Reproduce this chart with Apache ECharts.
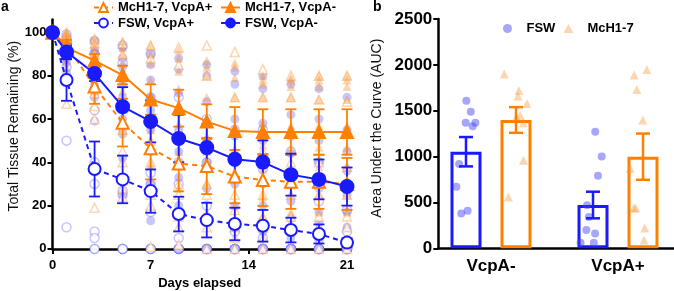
<!DOCTYPE html>
<html>
<head>
<meta charset="utf-8">
<script src="https://cdn.jsdelivr.net/npm/echarts@6/dist/echarts.min.js"></script>
<style>
html, body { margin: 0; padding: 0; background: #fff; }
#main { width: 674px; height: 291px; }
</style>
</head>
<body>
<div id="main"></div>
<script>
// ---- panel a: tissue remaining over time ----
var days = [0, 1, 3, 5, 7, 9, 11, 13, 15, 17, 19, 21];
var dayTicks = [0, 7, 14, 21];
var pctTicks = [0, 20, 40, 60, 80, 100];

var fswMinusMean = [100, 91, 81, 65.7, 58.9, 51, 46.8, 41.4, 40.1, 34.3, 32.1, 28.8];
var fswMinusSem  = [0, 3, 3.5, 9, 9.7, 11, 10.7, 10.6, 10, 9.7, 9.2, 8.8];
var fswPlusMean  = [100, 78, 36.9, 32.1, 26.7, 16.1, 13.3, 11.5, 10.7, 8.7, 6.9, 2.9];
var fswPlusSem   = [0, 9.6, 12.7, 11, 10, 8, 8, 7.5, 7.3, 5.7, 4.4, 2];
var mchMinusMean = [100, 93, 87, 80.3, 69, 65, 58.8, 54.5, 54, 54, 54, 54];
var mchMinusSem  = [0, 2, 3, 4.3, 7, 8.5, 8, 11, 10.5, 10.5, 10.5, 10.5];
var mchPlusMean  = [100, 94, 75, 58.3, 46.5, 39.4, 38.3, 33.4, 31.8, 31, 31, 30];
var mchPlusSem   = [0, 2.5, 8, 11, 14.4, 12.8, 13, 12.3, 12, 12.5, 12.5, 12];

// individual replicates, one row per day
var fswMinusPts = [
  [100],
  [98, 97, 95, 93, 92, 90, 88, 86, 81],
  [96, 92, 90, 86, 83, 79, 75, 70, 59],
  [93, 88, 84, 76, 70, 60, 53, 42, 25],
  [90, 85, 78, 70, 64, 55, 45, 30, 13],
  [88, 83, 72, 63, 55, 45, 33, 20, 0],
  [85, 80, 68, 58, 50, 40, 28, 14, 0],
  [82, 76, 60, 52, 42, 30, 20, 10, 0],
  [80, 74, 58, 50, 40, 30, 20, 8, 0],
  [76, 62, 52, 44, 30, 22, 14, 5, 0],
  [74, 60, 50, 40, 28, 17, 12, 4, 0],
  [70, 55, 45, 36, 25, 17, 10, 3, 0]
];
var fswPlusPts = [
  [100],
  [99, 97, 96, 94, 92, 90, 84, 50, 10],
  [96, 90, 64, 40, 30, 8, 5, 0, 0],
  [94, 86, 56, 27, 25, 0, 0, 0, 0],
  [90, 70, 35, 30, 17, 0, 0, 0, 0],
  [70, 40, 30, 5, 0, 0, 0, 0, 0],
  [60, 40, 20, 0, 0, 0, 0, 0, 0],
  [55, 40, 8, 0, 0, 0, 0, 0, 0],
  [55, 37, 5, 0, 0, 0, 0, 0, 0],
  [45, 33, 0, 0, 0, 0, 0, 0, 0],
  [40, 22, 0, 0, 0, 0, 0, 0, 0],
  [18, 8, 0, 0, 0, 0, 0, 0, 0]
];
var mchMinusPts = [
  [100],
  [100, 99, 97, 95, 93, 92, 90, 87, 84],
  [97, 95, 93, 90, 88, 86, 83, 78, 73],
  [96, 93, 90, 86, 82, 78, 73, 67, 55],
  [94, 90, 86, 78, 70, 62, 55, 47, 39],
  [92, 88, 82, 74, 66, 58, 52, 45, 28],
  [87, 84, 80, 70, 60, 52, 45, 30, 17],
  [86, 84, 79, 70, 56, 46, 35, 20, 10],
  [80, 78, 76, 70, 58, 48, 37, 24, 15],
  [79, 78, 75, 70, 57, 47, 38, 25, 17],
  [80, 78, 75, 69, 57, 47, 38, 25, 17],
  [80, 78, 75, 69, 57, 47, 38, 25, 17]
];
var mchPlusPts = [
  [100],
  [100, 99, 98, 97, 96, 95, 94, 90, 67],
  [97, 95, 90, 86, 80, 72, 66, 60, 19],
  [95, 90, 80, 65, 55, 45, 40, 28, 24],
  [94, 88, 70, 50, 40, 30, 25, 20, 1],
  [93, 85, 55, 40, 30, 25, 15, 10, 2],
  [94, 80, 50, 40, 30, 25, 15, 10, 0],
  [91, 70, 45, 35, 25, 18, 10, 5, 0],
  [83, 70, 45, 32, 25, 15, 10, 5, 0],
  [80, 70, 40, 30, 25, 15, 10, 9, 0],
  [80, 69, 40, 30, 25, 15, 10, 10, 0],
  [80, 68, 38, 30, 25, 15, 10, 4, 0]
];

// ---- panel b: area under the curve ----
var groups = ['VcpA-', 'VcpA+'];
var aucFswMean = [1053, 472];
var aucFswSem  = [160, 145];
var aucMchMean = [1399, 999];
var aucMchSem  = [140, 252];
var aucFswPts = [
  [1610, 1490, 1370, 1370, 1330, 920, 670, 410, 380],
  [1270, 1000, 790, 470, 340, 200, 160, 60, 60]
];
var aucMchPts = [
  [1900, 1720, 1660, 1580, 1450, 1430, 1370, 960, 560],
  [1950, 1890, 1730, 1400, 870, 440, 440, 220, 90]
];

var blue = '#1a1aff';
var orange = '#ff8000';
var fadeBlue = 'rgba(80,80,255,0.4)';
var fadeOrange = 'rgba(248,140,40,0.45)';
var font = 'Liberation Sans, Arial, sans-serif';

function pairs(xs, rows) {
  var out = [];
  rows.forEach(function (r, i) {
    r.forEach(function (v) { out.push([xs[i], v]); });
  });
  return out;
}

function errBars(name, xs, means, sems, color, xi, yi, cap, lw, z) {
  return {
    name: name, type: 'custom', xAxisIndex: xi, yAxisIndex: yi, z: z, silent: true,
    data: means.map(function (m, i) { return [xs[i], m - sems[i], m + sems[i]]; }),
    renderItem: function (params, api) {
      var lo = api.coord([api.value(0), api.value(1)]);
      var hi = api.coord([api.value(0), api.value(2)]);
      var st = { stroke: color, lineWidth: lw };
      return {
        type: 'group',
        children: [
          { type: 'line', shape: { x1: lo[0], y1: lo[1], x2: hi[0], y2: hi[1] }, style: st },
          { type: 'line', shape: { x1: lo[0] - cap / 2, y1: lo[1], x2: lo[0] + cap / 2, y2: lo[1] }, style: st },
          { type: 'line', shape: { x1: hi[0] - cap / 2, y1: hi[1], x2: hi[0] + cap / 2, y2: hi[1] }, style: st }
        ]
      };
    }
  };
}

function meanLine(name, means, color, symbol, size, dashed) {
  return {
    name: name, type: 'line', xAxisIndex: 0, yAxisIndex: 0, z: 6,
    data: days.map(function (d, i) { return [d, means[i]]; }),
    symbol: symbol, symbolSize: size,
    itemStyle: { color: color, borderColor: color, borderWidth: 2 },
    lineStyle: { color: color, width: 2, type: dashed ? [5, 4] : 'solid' }
  };
}

function fadedPts(name, rows, color, symbol, hollow) {
  return {
    name: name, type: 'scatter', xAxisIndex: 0, yAxisIndex: 0, z: 1, silent: true,
    data: pairs(days, rows), symbol: symbol, symbolSize: 9,
    itemStyle: hollow ? { color: '#fff', borderColor: color, borderWidth: 1.5 } : { color: color }
  };
}

var axisBlack = { lineStyle: { color: '#000', width: 2.5 } };
var tickBlack = { length: 5, lineStyle: { color: '#000', width: 2 } };
var hiddenY = { type: 'value', min: 0, max: 2500, show: false };
var boldText = { fontSize: 13, fontWeight: 'bold', color: '#000', fontFamily: font };

var chart = echarts.init(document.getElementById('main'), null, { renderer: 'canvas' });
var option = {
  animation: false,
  backgroundColor: '#fff',
  textStyle: { fontFamily: font },
  title: [
    { text: 'a', left: 1, top: 0, padding: 0, textStyle: { fontSize: 14, fontWeight: 'bold', color: '#000', fontFamily: font } },
    { text: 'b', left: 373, top: 0, padding: 0, textStyle: { fontSize: 14, fontWeight: 'bold', color: '#000', fontFamily: font } }
  ],
  legend: [
    {
      data: ['McH1-7, VcpA+', 'FSW, VcpA+'], orient: 'vertical', left: 93, top: 1, padding: 0,
      itemWidth: 19, itemHeight: 11, itemGap: 2.5, textStyle: boldText
    },
    {
      data: ['McH1-7, VcpA-', 'FSW, VcpA-'], orient: 'vertical', left: 220, top: 1, padding: 0,
      itemWidth: 19, itemHeight: 11, itemGap: 2.5, textStyle: boldText
    },
    {
      data: ['FSW', 'McH1-7'], orient: 'horizontal', left: 503, top: 22, padding: 0,
      itemWidth: 10, itemHeight: 9, itemGap: 8,
      formatter: function (name) { return '{gap|}' + name; },
      textStyle: Object.assign({ rich: { gap: { width: 9 } } }, boldText)
    }
  ],
  grid: [
    { left: 52.5, right: 327, top: 19.4, bottom: 42.1, outerBoundsMode: 'none' },
    { left: 438.3, right: 0, top: 19, bottom: 42.7, outerBoundsMode: 'none' },
    { left: 427.5, width: 254, top: 19, bottom: 42.7, outerBoundsMode: 'none' },
    { left: 402.5, width: 254, top: 19, bottom: 42.7, outerBoundsMode: 'none' },
    { left: 452.5, width: 254, top: 19, bottom: 42.7, outerBoundsMode: 'none' }
  ],
  xAxis: [
    {
      type: 'value', gridIndex: 0, min: 0, max: 21, interval: 7,
      axisLine: axisBlack, axisTick: tickBlack, splitLine: { show: false },
      axisLabel: Object.assign({ margin: 10, customValues: dayTicks }, boldText),
      name: 'Days elapsed', nameLocation: 'middle', nameGap: 28,
      nameTextStyle: boldText
    },
    {
      type: 'value', gridIndex: 1, min: 0, max: 1,
      axisLine: axisBlack, axisTick: { show: false }, axisLabel: { show: false }, splitLine: { show: false }
    },
    {
      type: 'category', gridIndex: 2, data: groups,
      axisLine: { show: false }, axisTick: { alignWithLabel: true, length: 5, lineStyle: { color: '#000', width: 2 } },
      axisLabel: { margin: 10, fontSize: 17, fontWeight: 'bold', color: '#000', fontFamily: font }
    },
    { type: 'category', gridIndex: 3, data: groups, show: false, jitter: 26, jitterOverlap: true },
    { type: 'category', gridIndex: 4, data: groups, show: false, jitter: 26, jitterOverlap: true }
  ],
  yAxis: [
    {
      type: 'value', gridIndex: 0, min: 0, max: 106,
      axisLine: axisBlack, axisTick: { length: 5, lineStyle: { color: '#000', width: 2 }, customValues: pctTicks },
      splitLine: { show: false },
      axisLabel: Object.assign({ margin: 6, customValues: pctTicks }, boldText),
      name: 'Total Tissue Remaining (%)', nameLocation: 'middle', nameGap: 30,
      nameTextStyle: { fontSize: 14, color: '#111', fontFamily: font, padding: [0, 0, 0, 16] }
    },
    {
      type: 'value', gridIndex: 1, min: 0, max: 2500, interval: 500,
      axisLine: axisBlack, axisTick: tickBlack, splitLine: { show: false },
      axisLabel: {
        margin: 6, fontSize: 17, fontWeight: 'bold', color: '#000', fontFamily: font,
        formatter: function (v) { return String(v); }
      },
      name: 'Area Under the Curve (AUC)', nameLocation: 'middle', nameGap: 54,
      nameTextStyle: { fontSize: 14, color: '#111', fontFamily: font, padding: [0, 0, 0, 11] }
    },
    Object.assign({ gridIndex: 2 }, hiddenY),
    Object.assign({ gridIndex: 3 }, hiddenY),
    Object.assign({ gridIndex: 4 }, hiddenY)
  ],
  series: [
    // faded replicates
    fadedPts('fsw+ pts', fswPlusPts, fadeBlue, 'circle', true),
    fadedPts('fsw- pts', fswMinusPts, fadeBlue, 'circle', false),
    fadedPts('mch+ pts', mchPlusPts, fadeOrange, 'triangle', true),
    fadedPts('mch- pts', mchMinusPts, fadeOrange, 'triangle', false),
    // error bars
    errBars('mch+ err', days, mchPlusMean, mchPlusSem, orange, 0, 0, 11, 1.8, 3),
    errBars('mch- err', days, mchMinusMean, mchMinusSem, orange, 0, 0, 11, 1.8, 3),
    errBars('fsw+ err', days, fswPlusMean, fswPlusSem, blue, 0, 0, 11, 1.8, 4),
    errBars('fsw- err', days, fswMinusMean, fswMinusSem, blue, 0, 0, 11, 1.8, 4),
    // means
    meanLine('McH1-7, VcpA+', mchPlusMean, orange, 'emptyTriangle', 12, true),
    meanLine('McH1-7, VcpA-', mchMinusMean, orange, 'triangle', 12, false),
    meanLine('FSW, VcpA+', fswPlusMean, blue, 'emptyCircle', 12, true),
    meanLine('FSW, VcpA-', fswMinusMean, blue, 'circle', 13, false),

    // panel b bars
    {
      name: 'FSW bar', type: 'bar', xAxisIndex: 3, yAxisIndex: 3, barWidth: 31, z: 1,
      data: aucFswMean,
      itemStyle: { color: '#fff', borderColor: blue, borderWidth: 3 }
    },
    {
      name: 'McH bar', type: 'bar', xAxisIndex: 4, yAxisIndex: 4, barWidth: 31, z: 1,
      data: aucMchMean,
      itemStyle: { color: '#fff', borderColor: orange, borderWidth: 3 }
    },
    {
      name: 'FSW', type: 'scatter', xAxisIndex: 3, yAxisIndex: 3, z: 2,
      data: pairs([0, 1], aucFswPts), symbol: 'circle', symbolSize: 8,
      itemStyle: { color: 'rgba(70,70,245,0.6)' }
    },
    {
      name: 'McH1-7', type: 'scatter', xAxisIndex: 4, yAxisIndex: 4, z: 2,
      data: pairs([0, 1], aucMchPts), symbol: 'triangle', symbolSize: 9,
      itemStyle: { color: fadeOrange }
    },
    errBars('fsw auc err', [0, 1], aucFswMean, aucFswSem, blue, 3, 3, 14, 2.5, 5),
    errBars('mch auc err', [0, 1], aucMchMean, aucMchSem, orange, 4, 4, 14, 2.5, 5)
  ]
};
chart.setOption(option);
</script>
</body>
</html>
